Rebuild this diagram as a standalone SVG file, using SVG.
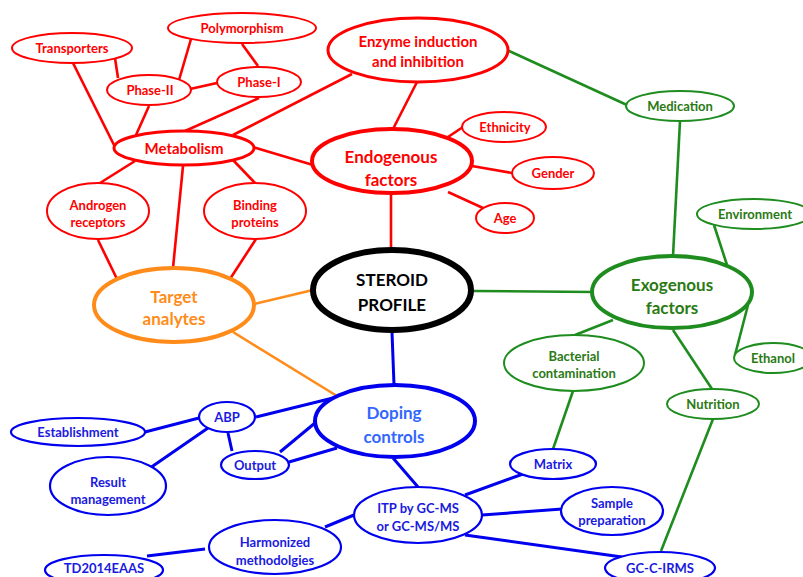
<svg xmlns="http://www.w3.org/2000/svg" width="803" height="577" viewBox="0 0 803 577">
<style>
text{font-family:Lato,"Open Sans","Liberation Sans",sans-serif;font-weight:bold;text-anchor:middle;font-size:13px}
ellipse{fill:#fff}
.r ellipse{stroke:#ff0000;stroke-width:2}
.r text{fill:#ff0000}
.g ellipse{stroke:#1e8c1e;stroke-width:2}
.g text{fill:#2a7a14}
.b ellipse{stroke:#0000ee;stroke-width:2.2}
.b text{fill:#1a1ae0}
.big{font-size:17px}
.lr{stroke:#ff0000;stroke-width:2.6}
.lg{stroke:#1e8c1e;stroke-width:2.6}
.lb{stroke:#0000ee;stroke-width:3}
.lo{stroke:#ff8c1a;stroke-width:2.6}
</style>
<rect width="803" height="577" fill="#fff"/>
<g id="connectors" fill="none">
<line class="lr" x1="115" y1="58" x2="118" y2="78"/>
<line class="lr" x1="73" y1="63" x2="115" y2="147"/>
<line class="lr" x1="191" y1="39" x2="179" y2="80"/>
<line class="lr" x1="242" y1="44" x2="258" y2="66"/>
<line class="lr" x1="190" y1="89" x2="217" y2="83"/>
<line class="lr" x1="149" y1="106" x2="136" y2="135"/>
<line class="lr" x1="259" y1="98" x2="185" y2="131"/>
<line class="lr" x1="352" y1="74" x2="233" y2="135"/>
<line class="lr" x1="417" y1="82" x2="393" y2="129"/>
<line class="lr" x1="253" y1="147" x2="313" y2="165"/>
<line class="lr" x1="448" y1="137" x2="463" y2="127"/>
<line class="lr" x1="472" y1="166" x2="512" y2="173"/>
<line class="lr" x1="448" y1="192" x2="483" y2="208"/>
<line class="lr" x1="391" y1="193" x2="391" y2="250"/>
<line class="lr" x1="135" y1="161" x2="100" y2="183"/>
<line class="lr" x1="183" y1="166" x2="173" y2="268"/>
<line class="lr" x1="233" y1="160" x2="255" y2="183"/>
<line class="lr" x1="98" y1="240" x2="117" y2="279"/>
<line class="lr" x1="256" y1="239" x2="230" y2="279"/>
<line class="lo" x1="254" y1="304" x2="313" y2="290"/>
<line class="lo" x1="233" y1="332" x2="337" y2="396"/>
<line class="lg" x1="507" y1="50" x2="627" y2="105"/>
<line class="lg" x1="680" y1="121" x2="673" y2="256"/>
<line class="lg" x1="714" y1="225" x2="727" y2="265"/>
<line class="lg" x1="748" y1="305" x2="735" y2="355"/>
<line class="lg" x1="473" y1="291" x2="593" y2="292"/>
<line class="lg" x1="613" y1="320" x2="575" y2="335"/>
<line class="lg" x1="673" y1="330" x2="712" y2="389"/>
<line class="lg" x1="573" y1="391" x2="553" y2="449"/>
<line class="lg" x1="713" y1="419" x2="661" y2="551"/>
<line class="lb" x1="392" y1="332" x2="394" y2="385"/>
<line class="lb" x1="256" y1="417" x2="333" y2="398"/>
<line class="lb" x1="280" y1="452" x2="315" y2="423"/>
<line class="lb" x1="289" y1="462" x2="337" y2="448"/>
<line class="lb" x1="228" y1="433" x2="232" y2="451"/>
<line class="lb" x1="199" y1="418" x2="145" y2="432"/>
<line class="lb" x1="208" y1="428" x2="150" y2="468"/>
<line class="lb" x1="393" y1="458" x2="418" y2="487"/>
<line class="lb" x1="465" y1="495" x2="523" y2="474"/>
<line class="lb" x1="482" y1="515" x2="562" y2="509"/>
<line class="lb" x1="465" y1="535" x2="622" y2="557"/>
<line class="lb" x1="325" y1="527" x2="354" y2="515"/>
<line class="lb" x1="205" y1="549" x2="147" y2="556"/>
</g>
<g id="transporters" class="r"><ellipse cx="72" cy="48" rx="60" ry="15"/><text x="72" y="53">Transporters</text></g>
<g id="polymorphism" class="r"><ellipse cx="242" cy="28" rx="74" ry="15"/><text x="242" y="33">Polymorphism</text></g>
<g id="phase2" class="r"><ellipse cx="149" cy="90" rx="42" ry="15"/><text x="150" y="95">Phase-II</text></g>
<g id="phase1" class="r"><ellipse cx="259" cy="82" rx="42" ry="15"/><text x="259" y="87">Phase-I</text></g>
<g id="metabolism" class="r"><ellipse cx="184" cy="148" rx="70" ry="17" style="stroke-width:3"/><text x="184" y="154" style="font-size:15px">Metabolism</text></g>
<g id="enzyme" class="r"><ellipse cx="418" cy="50" rx="90" ry="32" style="stroke-width:3"/><text x="418" y="47" style="font-size:15px">Enzyme induction</text><text x="418" y="67" style="font-size:15px">and inhibition</text></g>
<g id="ethnicity" class="r"><ellipse cx="504" cy="127" rx="42" ry="15"/><text x="505" y="132">Ethnicity</text></g>
<g id="gender" class="r"><ellipse cx="553" cy="173" rx="41" ry="16"/><text x="553" y="178">Gender</text></g>
<g id="age" class="r"><ellipse cx="505" cy="218" rx="29" ry="15"/><text x="505" y="223">Age</text></g>
<g id="endogenous" class="r"><ellipse cx="392" cy="161" rx="80" ry="32" style="stroke-width:4"/><text class="big" x="391" y="163">Endogenous</text><text class="big" x="391" y="186">factors</text></g>
<g id="androgen" class="r"><ellipse cx="98" cy="211" rx="51" ry="28"/><text x="98" y="210">Androgen</text><text x="98" y="227">receptors</text></g>
<g id="binding" class="r"><ellipse cx="255" cy="211" rx="51" ry="28"/><text x="255" y="210">Binding</text><text x="255" y="227">proteins</text></g>
<g id="target"><ellipse cx="174" cy="305" rx="80" ry="37" style="stroke:#ff8c1a;stroke-width:4"/><text class="big" x="174" y="303" fill="#ff8c1a">Target</text><text class="big" x="174" y="325" fill="#ff8c1a">analytes</text></g>
<g id="steroid"><ellipse cx="392" cy="290" rx="79" ry="40" style="stroke:#000;stroke-width:6"/><text class="big" x="392" y="286" fill="#000">STEROID</text><text class="big" x="392" y="311" fill="#000">PROFILE</text></g>
<g id="medication" class="g"><ellipse cx="680" cy="106" rx="54" ry="15"/><text x="680" y="111">Medication</text></g>
<g id="environment" class="g"><ellipse cx="754" cy="214" rx="57" ry="15"/><text x="755" y="219">Environment</text></g>
<g id="exogenous" class="g"><ellipse cx="672" cy="292" rx="80" ry="36" style="stroke-width:4"/><text class="big" x="672" y="291">Exogenous</text><text class="big" x="672" y="314">factors</text></g>
<g id="ethanol" class="g"><ellipse cx="773" cy="358" rx="39" ry="15"/><text x="773" y="363">Ethanol</text></g>
<g id="bacterial" class="g"><ellipse cx="574" cy="363" rx="70" ry="28"/><text x="574" y="361">Bacterial</text><text x="574" y="378">contamination</text></g>
<g id="nutrition" class="g"><ellipse cx="713" cy="404" rx="46" ry="15"/><text x="713" y="409">Nutrition</text></g>
<g id="doping" class="b"><ellipse cx="395" cy="421" rx="80" ry="36" style="stroke-width:4"/><text class="big" x="394" y="419" style="fill:#3366ff">Doping</text><text class="big" x="394" y="443" style="fill:#3366ff">controls</text></g>
<g id="abp" class="b"><ellipse cx="227" cy="417" rx="28" ry="15"/><text x="227" y="422">ABP</text></g>
<g id="establishment" class="b"><ellipse cx="78" cy="432" rx="67" ry="14"/><text x="78" y="437">Establishment</text></g>
<g id="output" class="b"><ellipse cx="255" cy="465" rx="34" ry="14"/><text x="255" y="470">Output</text></g>
<g id="result" class="b"><ellipse cx="108" cy="486" rx="58" ry="29"/><text x="108" y="487">Result</text><text x="108" y="504">management</text></g>
<g id="matrix" class="b"><ellipse cx="553" cy="464" rx="43" ry="15"/><text x="553" y="469">Matrix</text></g>
<g id="sample" class="b"><ellipse cx="612" cy="511" rx="51" ry="24"/><text x="612" y="508">Sample</text><text x="612" y="525">preparation</text></g>
<g id="itp" class="b"><ellipse cx="418" cy="515" rx="64" ry="28"/><text x="418" y="513">ITP by GC-MS</text><text x="418" y="531">or GC-MS/MS</text></g>
<g id="harmonized" class="b"><ellipse cx="275" cy="547" rx="66" ry="27"/><text x="275" y="547">Harmonized</text><text x="275" y="565">methodolgies</text></g>
<g id="td2014" class="b"><ellipse cx="104" cy="570" rx="59" ry="15"/><text x="104" y="573">TD2014EAAS</text></g>
<g id="gccirms" class="b"><ellipse cx="660" cy="568" rx="55" ry="16"/><text x="660" y="573">GC-C-IRMS</text></g>
</svg>
